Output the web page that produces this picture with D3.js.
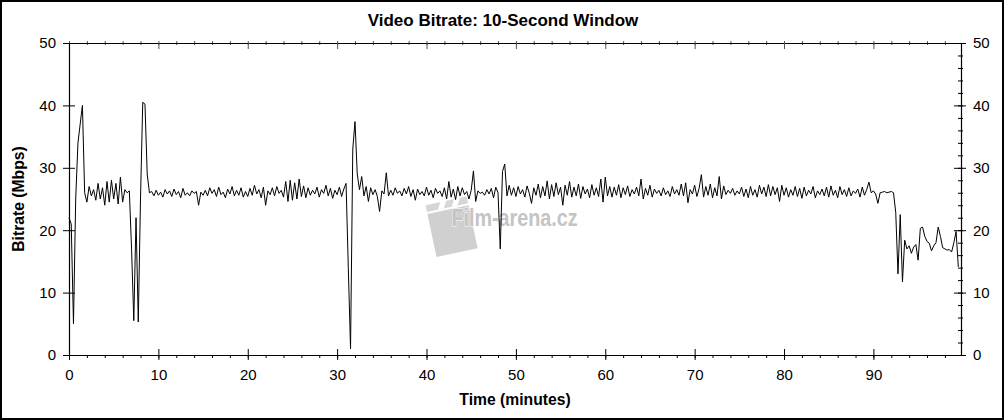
<!DOCTYPE html>
<html>
<head>
<meta charset="utf-8">
<script src="https://cdn.jsdelivr.net/npm/d3@7"></script>
<style>
  html, body { margin: 0; padding: 0; background: #fff; }
  svg { display: block; font-family: "Liberation Sans", Arial, sans-serif; }
</style>
</head>
<body>
<svg id="chart" width="1004" height="420"></svg>
<script>
// ---- data ----
const chartTitle = "Video Bitrate: 10-Second Window";
const xAxisTitle = "Time (minutes)";
const yAxisTitle = "Bitrate (Mbps)";
const xTickValues = [0, 10, 20, 30, 40, 50, 60, 70, 80, 90];
const yTickValues = [0, 10, 20, 30, 40, 50];
const xDomain = [0, 99.8];
const yDomain = [0, 50];
const sampleStartMinute = 0;
const sampleStepMinutes = 0.25;
// bitrate (Mbps), one value per 0.25 minute, grouped per minute
const bitrate = [
  22, 21, 5, 25,            // 0
  34, 37, 40, 26,           // 1
  24.5, 27, 25.5, 26.5,     // 2
  24.8, 27.5, 25, 26.8,     // 3
  24, 27.8, 24.5, 28,       // 4
  25, 27.5, 24.2, 28.5,     // 5
  24.5, 26.5, 26, 26.3,     // 6
  17, 5.5, 22, 5.3,         // 7
  25, 40.5, 40.2, 29,       // 8
  26, 26.2, 25.5, 26.4,     // 9
  25.6, 26.1, 25.3, 26.5,   // 10
  25.8, 26.3, 25.4, 26.6,   // 11
  25.7, 26.2, 25.2, 26.7,   // 12
  25.6, 26.0, 25.5, 26.3,   // 13
  25.9, 26.2, 24.0, 26.1,   // 14
  25.6, 26.4, 25.5, 26.8,   // 15
  25.9, 26.5, 25.4, 26.9,   // 16
  25.7, 26.1, 25.2, 26.6,   // 17
  25.8, 27.0, 25.5, 26.4,   // 18
  25.6, 26.8, 25.3, 26.2,   // 19
  25.4, 26.7, 25.6, 27.2,   // 20
  25.8, 26.5, 25.2, 26.9,   // 21
  24.0, 26.3, 25.7, 26.8,   // 22
  25.5, 27.0, 25.9, 26.4,   // 23
  25.3, 27.8, 24.6, 28.0,   // 24
  24.8, 27.6, 25.0, 28.2,   // 25
  25.4, 27.1, 25.2, 26.8,   // 26
  25.6, 26.4, 25.8, 26.9,   // 27
  25.3, 26.5, 25.9, 27.2,   // 28
  25.5, 26.7, 25.1, 26.4,   // 29
  25.7, 26.9, 25.4, 26.6,   // 30
  27.5, 14, 1, 33,          // 31
  37.4, 29, 26.5, 28.6,     // 32
  25.5, 27.0, 24.6, 26.8,   // 33
  25.7, 26.5, 25.4, 23.0,   // 34
  26.3, 25.8, 29.2, 25.5,   // 35
  26.4, 25.6, 26.8, 25.9,   // 36
  26.3, 25.5, 26.7, 25.8,   // 37
  27.0, 25.4, 26.5, 24.8,   // 38
  26.6, 25.7, 26.2, 25.5,   // 39
  26.9, 25.6, 26.4, 25.2,   // 40
  26.7, 25.9, 26.3, 25.4,   // 41
  26.8, 25.0, 27.8, 25.3,   // 42
  26.6, 24.9, 27.0, 25.5,   // 43
  26.8, 25.7, 26.2, 25.0,   // 44
  26.4, 29.5, 24.6, 26.3,   // 45
  25.9, 26.1, 25.6, 26.5,   // 46
  25.8, 26.7, 25.2, 26.9,   // 47
  26.0, 17.0, 29.4, 30.6,   // 48
  25.5, 27.2, 25.6, 26.8,   // 49
  25.4, 27.0, 25.8, 26.5,   // 50
  25.3, 27.1, 25.9, 24.3,   // 51
  26.8, 25.6, 27.4, 25.2,   // 52
  27.0, 25.5, 27.9, 25.0,   // 53
  27.3, 25.4, 27.6, 25.7,   // 54
  26.9, 24.0, 27.2, 25.6,   // 55
  27.8, 25.3, 26.9, 25.5,   // 56
  27.4, 25.1, 27.0, 25.8,   // 57
  26.6, 25.2, 27.3, 25.6,   // 58
  26.8, 25.4, 28.2, 24.5,   // 59
  28.5, 25.5, 27.0, 25.3,   // 60
  26.9, 25.6, 27.3, 25.2,   // 61
  26.8, 25.7, 27.1, 25.4,   // 62
  26.5, 25.8, 26.9, 25.5,   // 63
  28.2, 25.0, 26.7, 25.6,   // 64
  27.2, 25.3, 26.6, 25.9,   // 65
  26.4, 25.5, 26.8, 25.7,   // 66
  26.3, 25.4, 27.0, 25.8,   // 67
  26.5, 25.6, 27.4, 25.5,   // 68
  27.6, 24.4, 26.5, 25.8,   // 69
  27.2, 25.4, 26.7, 28.9,   // 70
  25.3, 27.0, 25.6, 27.4,   // 71
  25.2, 26.8, 25.5, 28.6,   // 72
  25.0, 27.1, 25.7, 26.4,   // 73
  25.9, 26.7, 25.6, 26.3,   // 74
  25.8, 26.9, 25.4, 26.6,   // 75
  25.2, 27.0, 25.6, 26.5,   // 76
  25.3, 27.2, 25.8, 26.9,   // 77
  25.4, 27.3, 25.5, 27.0,   // 78
  25.7, 26.8, 24.6, 27.2,   // 79
  25.6, 26.8, 25.3, 26.5,   // 80
  25.6, 27.0, 25.4, 26.7,   // 81
  25.1, 26.9, 25.5, 26.4,   // 82
  25.8, 27.0, 25.2, 26.3,   // 83
  25.7, 26.6, 25.5, 26.9,   // 84
  25.3, 27.1, 25.6, 26.4,   // 85
  25.2, 27.0, 25.7, 26.5,   // 86
  25.4, 26.8, 25.5, 26.3,   // 87
  25.9, 26.6, 25.3, 26.9,   // 88
  25.6, 26.5, 27.7, 26.0,   // 89
  26.3, 25.8, 24.3, 26.0,   // 90
  26.1, 26.2, 26.0, 26.1,   // 91
  26.2, 26.0, 22.8, 13.0,   // 92
  22.5, 11.7, 18.4, 17.0,   // 93
  17.5, 16.3, 17.3, 17.7,   // 94
  15.2, 20.3, 20.5, 19.0,   // 95
  18.2, 17.9, 16.7, 17.5,   // 96
  18.0, 20.5, 19.0, 17.2,   // 97
  17.0, 16.8, 16.9, 16.5,   // 98
  18.0, 19.8, 14.1          // 99
];
const watermarkText = "Film-arena.cz";

// ---- layout ----
const W = 1004, H = 420;
const margin = { left: 69, right: 43, top: 43, bottom: 65 };
const plotW = W - margin.left - margin.right;
const plotH = H - margin.top - margin.bottom;

const svg = d3.select("#chart");
svg.append("rect").attr("x", 1).attr("y", 1).attr("width", W - 2).attr("height", H - 2)
  .attr("fill", "#fff").attr("stroke", "#000").attr("stroke-width", 2);

const x = d3.scaleLinear().domain(xDomain).range([margin.left, margin.left + plotW]);
const y = d3.scaleLinear().domain(yDomain).range([margin.top + plotH, margin.top]);

// title
svg.append("text").attr("x", 503).attr("y", 26).attr("text-anchor", "middle")
  .attr("font-size", 17).attr("font-weight", "bold").text(chartTitle);

// watermark (clapperboard logo + text)
const wm = svg.append("g");
const logo = wm.append("g").attr("transform", `translate(${x(40.1)},${y(22.6)}) rotate(-12)`);
logo.append("rect").attr("x", 0).attr("y", 0).attr("width", 42).attr("height", 44).attr("fill", "#d0d0d0");
logo.append("rect").attr("x", 0).attr("y", -9).attr("width", 42).attr("height", 7).attr("fill", "#d6d6d6");
logo.append("rect").attr("x", 10).attr("y", -9).attr("width", 6).attr("height", 7).attr("fill", "#fff").attr("transform", "skewX(-30)");
logo.append("rect").attr("x", 24).attr("y", -9).attr("width", 6).attr("height", 7).attr("fill", "#fff").attr("transform", "skewX(-30)");
wm.append("text").attr("x", x(42.8)).attr("y", y(20.7)).attr("font-size", 24)
  .attr("font-weight", "bold").attr("fill", "#c4c4c4").attr("stroke", "#fff").attr("stroke-width", 0.8)
  .attr("paint-order", "stroke")
  .attr("textLength", 126).attr("lengthAdjust", "spacingAndGlyphs").text(watermarkText);

// axes
const minorX = d3.range(0, 100, 2);
const minorY = d3.range(0, 51, 2);
const axisStyle = g => {
  g.select(".domain").attr("stroke", "#000").attr("stroke-width", 1.2);
  g.selectAll(".tick line").attr("stroke", "#000");
  g.selectAll(".tick text").attr("font-size", 15).attr("fill", "#000")
    .attr("font-family", '"Liberation Sans", Arial, sans-serif');
};

// bottom
svg.append("g").attr("transform", `translate(0,${margin.top + plotH})`)
  .call(d3.axisBottom(x).tickValues(minorX).tickSize(3).tickFormat(""))
  .call(g => g.select(".domain").remove()).call(axisStyle);
svg.append("g").attr("transform", `translate(0,${margin.top + plotH})`)
  .call(d3.axisBottom(x).tickValues(xTickValues).tickSize(5).tickSizeOuter(0).tickPadding(9).tickFormat(d3.format("d")))
  .call(axisStyle)
  .call(g => g.selectAll(".tick line").attr("y1", -6));
// top
svg.append("g").attr("transform", `translate(0,${margin.top})`)
  .call(d3.axisTop(x).tickValues(minorX).tickSize(2).tickFormat(""))
  .call(g => g.select(".domain").remove()).call(axisStyle)
  .call(g => g.selectAll(".tick line").attr("y1", 2).attr("stroke", "#555"));
svg.append("g").attr("transform", `translate(0,${margin.top})`)
  .call(d3.axisTop(x).tickValues(xTickValues).tickSize(0).tickSizeOuter(0).tickFormat(""))
  .call(axisStyle)
  .call(g => g.selectAll(".tick line").attr("y1", 0).attr("y2", 6).attr("stroke", "#555"));
// left
svg.append("g").attr("transform", `translate(${margin.left},0)`)
  .call(d3.axisLeft(y).tickValues(minorY).tickSize(4).tickFormat(""))
  .call(g => g.select(".domain").remove()).call(axisStyle)
  .call(g => g.selectAll(".tick line").attr("x2", 1));
svg.append("g").attr("transform", `translate(${margin.left},0)`)
  .call(d3.axisLeft(y).tickValues(yTickValues).tickSize(6).tickSizeOuter(0).tickPadding(7).tickFormat(d3.format("d")))
  .call(axisStyle)
  .call(g => g.selectAll(".tick line").attr("x1", 6));
// right
svg.append("g").attr("transform", `translate(${margin.left + plotW},0)`)
  .call(d3.axisRight(y).tickValues(minorY).tickSize(2).tickFormat(""))
  .call(g => g.select(".domain").remove()).call(axisStyle)
  .call(g => g.selectAll(".tick line").attr("x1", -3));
svg.append("g").attr("transform", `translate(${margin.left + plotW},0)`)
  .call(d3.axisRight(y).tickValues(yTickValues).tickSize(5).tickSizeOuter(0).tickPadding(7).tickFormat(d3.format("d")))
  .call(axisStyle)
  .call(g => g.selectAll(".tick line").attr("x1", -7));

// axis titles
svg.append("text").attr("x", margin.left + plotW / 2).attr("y", 405).attr("text-anchor", "middle")
  .attr("font-size", 15.7).attr("font-weight", "bold").text(xAxisTitle);
svg.append("text").attr("transform", `translate(24,${margin.top + plotH / 2}) rotate(-90)`)
  .attr("text-anchor", "middle").attr("font-size", 15.7).attr("font-weight", "bold").text(yAxisTitle);

// line
const points = bitrate.map((v, i) => [sampleStartMinute + i * sampleStepMinutes, v]);
const line = d3.line().x(d => x(d[0])).y(d => y(d[1]));
svg.append("path").datum(points).attr("d", line)
  .attr("fill", "none").attr("stroke", "#000").attr("stroke-width", 1).attr("stroke-linejoin", "miter");
</script>
</body>
</html>
